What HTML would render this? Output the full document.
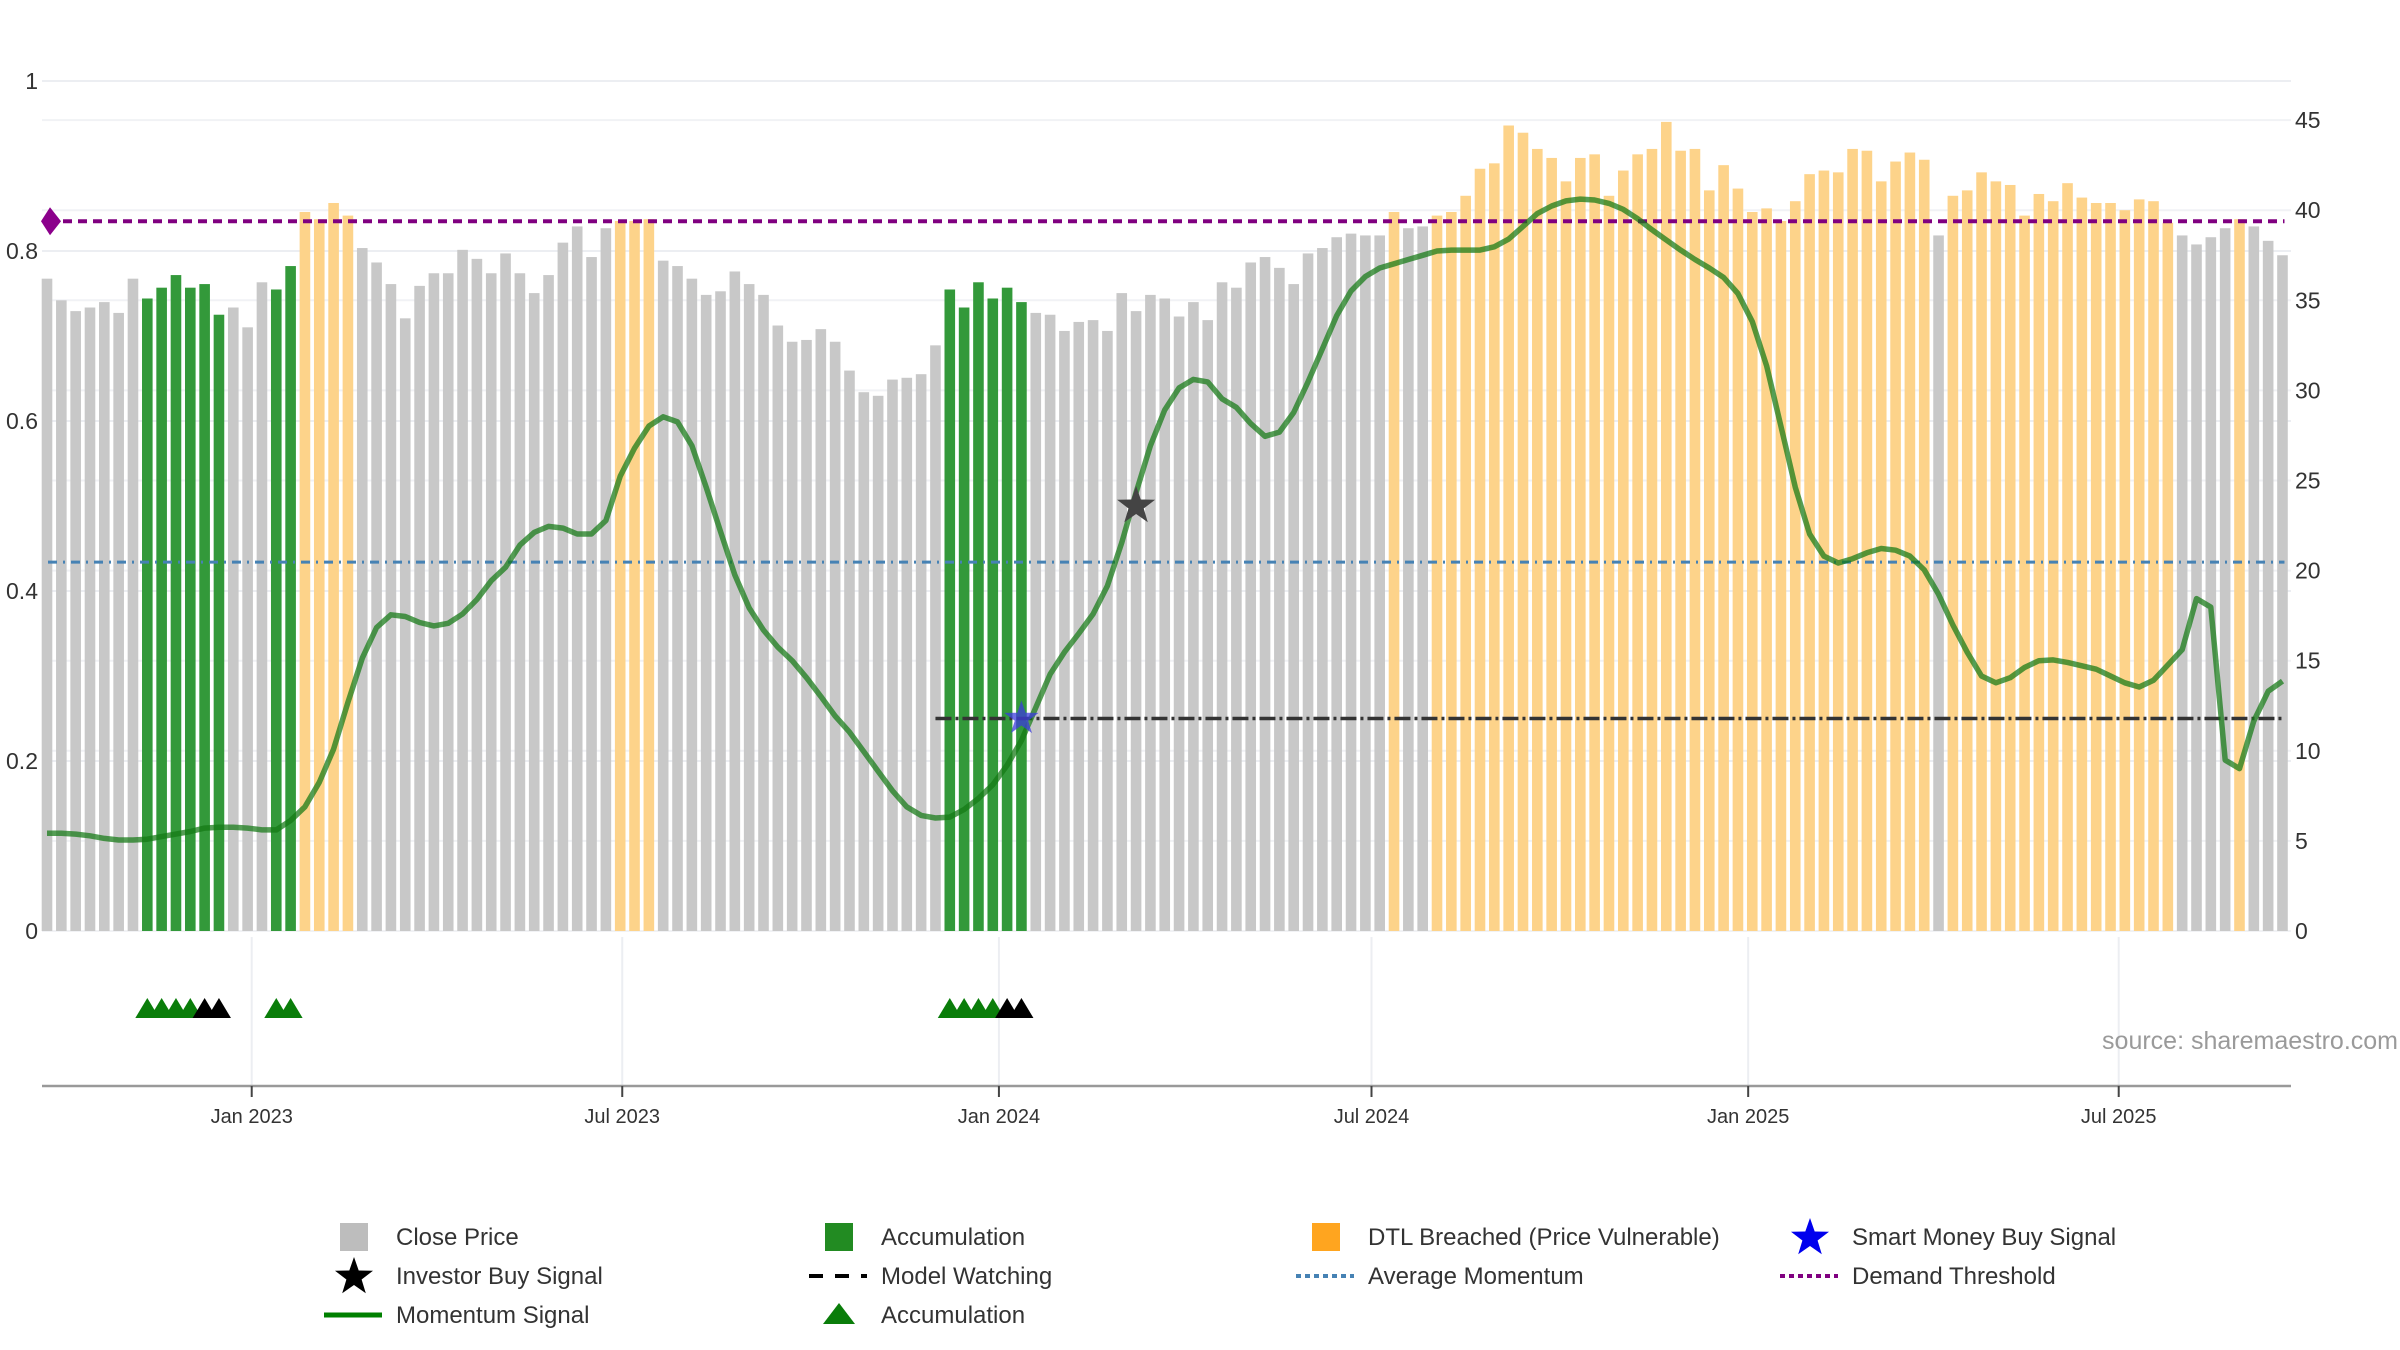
<!DOCTYPE html>
<html><head><meta charset="utf-8">
<style>
html,body{margin:0;padding:0;background:#fff;}
svg{display:block;font-family:"Liberation Sans","DejaVu Sans",sans-serif;}
</style></head>
<body>
<svg id="chart" width="2400" height="1350" viewBox="0 0 2400 1350" xmlns="http://www.w3.org/2000/svg">
<g id="grid"></g>
<g id="bars"></g>
<g id="refs"></g>
<g id="lines"></g>
<g id="marks"></g>
<g id="axes"></g>
<g id="legend"></g>
<text x="2398" y="1049" text-anchor="end" font-size="25" fill="#9a9a9a">source: sharemaestro.com</text>
</svg>
<script>
// ---- data ----
const startDate = "2022-09-23";
const closePrice = [36.2,35.0,34.4,34.6,34.9,34.3,36.2,35.1,35.7,36.4,35.7,35.9,34.2,34.6,33.5,36.0,35.6,36.9,
39.9,39.5,40.4,39.7,37.9,37.1,35.9,34.0,35.8,36.5,36.5,37.8,37.3,36.5,37.6,36.5,35.4,36.4,38.2,39.1,37.4,39.0,
39.4,39.4,39.5,37.2,36.9,36.2,35.3,35.5,36.6,35.9,35.3,33.6,32.7,32.8,33.4,32.7,31.1,29.9,29.7,30.6,30.7,30.9,32.5,
35.6,34.6,36.0,35.1,35.7,34.9,34.3,34.2,33.3,33.8,33.9,33.3,35.4,34.4,35.3,35.1,34.1,34.9,33.9,
36.0,35.7,37.1,37.4,36.8,35.9,37.6,37.9,38.5,38.7,38.6,38.6,39.9,39.0,39.1,39.7,39.9,40.8,
42.3,42.6,44.7,44.3,43.4,42.9,41.6,42.9,43.1,40.8,42.2,43.1,43.4,44.9,43.3,43.4,41.1,42.5,41.2,39.9,40.1,39.4,40.5,42.0,42.2,42.1,
43.4,43.3,41.6,42.7,43.2,42.8,38.6,40.8,41.1,42.1,41.6,41.4,39.7,40.9,40.5,41.5,40.7,40.4,40.4,40.0,40.6,40.5,39.3,38.6,38.1,38.5,39.0,39.5,39.1,38.3,37.5];
// c = close, a = accumulation, d = DTL breached
const barState = ("ccccccc"+"aaaaaa"+"ccc"+"aa"+"dddd"+"cccccccccccccccccc"+"ddd"+"cccccccccccccccccccc"+"aaaaaa"+
"ccccccccccccccccccccccccc"+"d"+"cc"+"ddddddddddddddddddddddddddddddddddd"+"c"+"dddddddddddddddd"+"cccc"+"d"+"ccc").split("");
const momentum = [.115,.115,.114,.112,.109,.107,.107,.108,.111,.114,.117,.121,.122,.122,.121,.119,
.119,.130,.146,.175,.214,.269,.321,.357,.372,.370,.363,.359,.362,.373,.390,.412,.428,.454,.469,.476,.474,.467,.467,.483,.535,
.568,.594,.605,.599,.571,.522,.470,.419,.380,.354,.334,.318,.298,.276,.253,.234,.211,.188,.165,.146,.136,.133,.134,.143,.156,.172,.195,.224,.263,.302,.328,.350,.373,.406,.457,.516,.571,.613,.639,.649,.646,.626,
.616,.597,.582,.587,.61,.646,.685,.724,.753,.770,.780,.785,.790,.795,.800,.801,.801,.801,.805,.814,.829,.844,.853,.859,.861,.86,.856,.849,.838,.825,.813,.801,.790,.780,.769,.750,.717,.665,.594,.522,.467,.441,.433,
.438,.445,.45,.448,.441,.425,.396,.36,.328,.30,.292,.298,.31,.318,.319,.316,.312,.308,.30,.292,.287,.295,.313,.331,.391,.381,.201,.191,.247,.282,.294];
const accumTriangles = [7,8,9,10,16,17,63,64,65,66];
const exitTriangles = [11,12,67,68];
const investorBuyIdx = [76];
const investorBuyVal = [0.50];
const smartMoneyIdx = [68];
const smartMoneyVal = [0.25];
const watchStartIdx = 62;
const watchLevel = 0.25;
const demandThreshold = 0.835;
const avgMomentum = 0.434;
const leftTicks = [0,0.2,0.4,0.6,0.8,1];
const leftTickLabels = ["0","0.2","0.4","0.6","0.8","1"];
const rightTicks = [0,5,10,15,20,25,30,35,40,45];
const dateTicks = ["2023-01-01","2023-07-01","2024-01-01","2024-07-01","2025-01-01","2025-07-01"];
const dateTickLabels = ["Jan 2023","Jul 2023","Jan 2024","Jul 2024","Jan 2025","Jul 2025"];

// ---- scales ----
const NS="http://www.w3.org/2000/svg";
const X0=47, STEP=14.33, Y0=931;
const PL=42, PR=2291;
function xIdx(i){return X0+i*STEP;}
function xDate(s){const d=(new Date(s+"T00:00:00Z")-new Date(startDate+"T00:00:00Z"))/86400000;return X0+d/7*STEP;}
function yL(v){return Y0-v*850;}
function yR(v){return Y0-v*18.02;}
function mk(tag,attrs,parent){const e=document.createElementNS(NS,tag);for(const k in attrs)e.setAttribute(k,attrs[k]);parent.appendChild(e);return e;}
const G=id=>document.getElementById(id);

// grid
leftTicks.forEach(t=>{const l=mk("line",{x1:PL,x2:PR,y1:yL(t),y2:yL(t),stroke:"#eceef2","stroke-width":2},G("grid"));

});
rightTicks.forEach(t=>{const l=mk("line",{x1:PL,x2:PR,y1:yR(t),y2:yR(t),stroke:"#f1f2f5","stroke-width":2},G("grid"));

});
dateTicks.forEach(d=>{const l=mk("line",{x1:xDate(d),x2:xDate(d),y1:937,y2:1086,stroke:"#eceef2","stroke-width":2},G("grid"));

});

// bars
const colors={c:"#c8c8c8",a:"#33993a",d:"#fdd38a"};
closePrice.forEach((v,i)=>{const w=10.6;
const r=mk("rect",{x:xIdx(i)-w/2,y:yR(v),width:w,height:Y0-yR(v),fill:colors[barState[i]]},G("bars"));

});

// reference lines
let e;
e=mk("line",{x1:xIdx(watchStartIdx),x2:xIdx(closePrice.length-1)+2,y1:yL(watchLevel),y2:yL(watchLevel),stroke:"#333","stroke-width":3.5,"stroke-dasharray":"16,4,3,4"},G("refs"));


e=mk("line",{x1:PL+6,x2:xIdx(closePrice.length-1)+2,y1:yL(avgMomentum),y2:yL(avgMomentum),stroke:"#4682b4","stroke-width":3,"stroke-dasharray":"9,6,2,6"},G("refs"));


e=mk("line",{x1:PL+6,x2:xIdx(closePrice.length-1)+2,y1:yL(demandThreshold),y2:yL(demandThreshold),stroke:"#800080","stroke-width":4,"stroke-dasharray":"9,6"},G("refs"));


const dx=PL+8, dy=yL(demandThreshold);
e=mk("polygon",{points:`${dx-9},${dy} ${dx},${dy-14} ${dx+11},${dy} ${dx},${dy+14}`,fill:"#8b008b"},G("refs"));



// momentum line
const pts=momentum.map((v,i)=>xIdx(i).toFixed(1)+","+yL(v).toFixed(1)).join(" ");
e=mk("polyline",{points:pts,fill:"none",stroke:"rgba(20,120,20,0.72)","stroke-width":5.5,"stroke-linejoin":"round"},G("lines"));



// stars
function starPts(cx,cy,R,r){let p=[];for(let k=0;k<10;k++){const a=-Math.PI/2+k*Math.PI/5;const rr=k%2?r:R;p.push((cx+rr*Math.cos(a)).toFixed(1)+","+(cy+rr*Math.sin(a)).toFixed(1));}return p.join(" ");}
investorBuyIdx.forEach((idx,k)=>{const s=mk("polygon",{points:starPts(xIdx(idx),yL(investorBuyVal[k]),20,8),fill:"#444"},G("marks"));

});
smartMoneyIdx.forEach((idx,k)=>{const s=mk("polygon",{points:starPts(xIdx(idx),yL(smartMoneyVal[k]),18,7),fill:"rgba(60,60,220,0.75)"},G("marks"));

});

// triangles in lower panel
function tri(i,fill,name){const cx=xIdx(i),by=1018,h=20,hw=12;
const t=mk("polygon",{points:`${cx-hw},${by} ${cx},${by-h} ${cx+hw},${by}`,fill:fill},G("marks"));

}
accumTriangles.forEach(i=>tri(i,"#0a7d0a","accumulation-triangle"));
exitTriangles.forEach(i=>tri(i,"#000","exit-triangle"));

// axes
e=mk("line",{x1:PL,x2:PR,y1:1086,y2:1086,stroke:"#999","stroke-width":2.5},G("axes"));


dateTicks.forEach((d,k)=>{const x=xDate(d);
const t=mk("line",{x1:x,x2:x,y1:1086,y2:1097,stroke:"#444","stroke-width":2},G("axes"));


const tx=mk("text",{x:x,y:1123,"text-anchor":"middle","font-size":20,fill:"#333"},G("axes"));
tx.textContent=dateTickLabels[k];

});
leftTicks.forEach((t,k)=>{const tx=mk("text",{x:38,y:yL(t)+8,"text-anchor":"end","font-size":23,fill:"#333"},G("axes"));
tx.textContent=leftTickLabels[k];

});
rightTicks.forEach(t=>{const tx=mk("text",{x:2295,y:yR(t)+8,"text-anchor":"start","font-size":23,fill:"#333"},G("axes"));
tx.textContent=String(t);

});

// legend
const LG=G("legend");
const cols=[354,839,1326,1810], tcol=[396,881,1368,1852], rows=[1237,1276,1315];
function ltext(c,r,s){const t=mk("text",{x:tcol[c],y:rows[r]+8,"font-size":24,fill:"#333"},LG);t.textContent=s;

}
function litem(c,r,name){const g=mk("g",{},LG);
return g;}
let g;
g=litem(0,0,'legend-close-price');mk("rect",{x:cols[0]-14,y:rows[0]-14,width:28,height:28,fill:"#bdbdbd"},g);ltext(0,0,"Close Price");
g=litem(1,0,'legend-accumulation-bar');mk("rect",{x:cols[1]-14,y:rows[0]-14,width:28,height:28,fill:"#228b22"},g);ltext(1,0,"Accumulation");
g=litem(2,0,'legend-dtl-breached');mk("rect",{x:cols[2]-14,y:rows[0]-14,width:28,height:28,fill:"#ffa51f"},g);ltext(2,0,"DTL Breached (Price Vulnerable)");
g=litem(3,0,'legend-smart-money');mk("polygon",{points:starPts(cols[3],rows[0]+1,20,8),fill:"#0000ee"},g);ltext(3,0,"Smart Money Buy Signal");
g=litem(0,1,'legend-investor-buy');mk("polygon",{points:starPts(cols[0],rows[1]+1,20,8),fill:"#000"},g);ltext(0,1,"Investor Buy Signal");
g=litem(1,1,'legend-model-watching');mk("line",{x1:cols[1]-30,x2:cols[1]+28,y1:rows[1],y2:rows[1],stroke:"#000","stroke-width":4,"stroke-dasharray":"14,12"},g);ltext(1,1,"Model Watching");
g=litem(2,1,'legend-average-momentum');mk("line",{x1:cols[2]-30,x2:cols[2]+28,y1:rows[1],y2:rows[1],stroke:"#4682b4","stroke-width":4,"stroke-dasharray":"5,4"},g);ltext(2,1,"Average Momentum");
g=litem(3,1,'legend-demand-threshold');mk("line",{x1:cols[3]-30,x2:cols[3]+28,y1:rows[1],y2:rows[1],stroke:"#800080","stroke-width":4,"stroke-dasharray":"5,4"},g);ltext(3,1,"Demand Threshold");
g=litem(0,2,'legend-momentum-signal');mk("line",{x1:cols[0]-30,x2:cols[0]+28,y1:rows[2],y2:rows[2],stroke:"#008000","stroke-width":5},g);ltext(0,2,"Momentum Signal");
g=litem(1,2,'legend-accumulation-triangle');mk("polygon",{points:`${cols[1]-16},${rows[2]+9} ${cols[1]},${rows[2]-12} ${cols[1]+16},${rows[2]+9}`,fill:"#0a7d0a"},g);ltext(1,2,"Accumulation");
</script>
</body></html>
